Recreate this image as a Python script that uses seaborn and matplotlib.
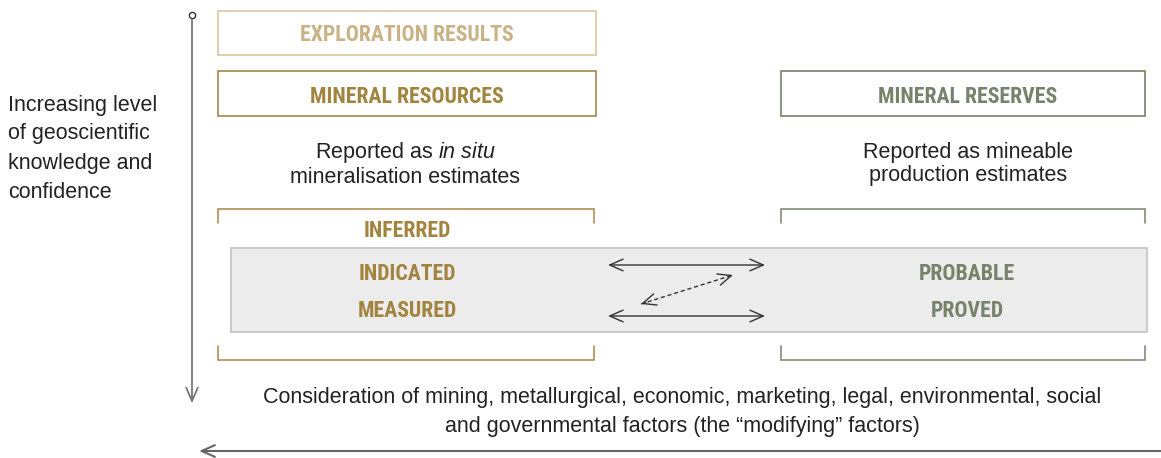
import matplotlib
matplotlib.use("Agg")
import matplotlib.pyplot as plt
import matplotlib.patches as mpatches
from matplotlib import font_manager
import seaborn as sns

# text content of the diagram
side_label = "Increasing level\nof geoscientific\nknowledge and\nconfidence"
top_box = "EXPLORATION RESULTS"
header_boxes = ["MINERAL RESOURCES", "MINERAL RESERVES"]
resource_categories = ["INFERRED", "INDICATED", "MEASURED"]
reserve_categories = ["PROBABLE", "PROVED"]
footnote = ("Consideration of mining, metallurgical, economic, marketing, legal, environmental, social\n"
            "and governmental factors (the \u201cmodifying\u201d factors)")

GOLD = "#a2843f"
GOLD_EDGE = "#ad9058"
LIGHT_GOLD = "#c9b386"
LIGHT_EDGE = "#dccaa6"
GREEN = "#76836a"
GREEN_EDGE = "#808c74"
TEXT = "#222222"


def pick_font(candidates):
    names = {f.name for f in font_manager.fontManager.ttflist}
    for c in candidates:
        if c in names:
            return c
    return "DejaVu Sans"


sns.set_theme(style="white")
body_font = pick_font(["Liberation Sans", "Arial", "DejaVu Sans"])
head_font = pick_font(["Roboto Condensed", "Liberation Sans Narrow", "Roboto", "Liberation Sans"])
plt.rcParams["font.family"] = [body_font, "DejaVu Sans"]
plt.rcParams["mathtext.fontset"] = "custom"
plt.rcParams["mathtext.rm"] = body_font
plt.rcParams["mathtext.it"] = body_font + ":italic"

fig = plt.figure(figsize=(11.61, 4.58), dpi=100)
ax = fig.add_axes([0, 0, 1, 1])
ax.set_xlim(0, 1161)
ax.set_ylim(458, 0)
ax.axis("off")


def box(x0, y0, x1, y1, edge, face="none", lw=1.3):
    ax.add_patch(mpatches.Rectangle((x0, y0), x1 - x0, y1 - y0, facecolor=face,
                                    edgecolor=edge, linewidth=lw))


def head(x, y, s, color):
    ax.text(x, y + 2, s, ha="center", va="center", fontsize=15.7, fontweight="bold",
            family=head_font, color=color)


def bracket(x0, x1, y_line, y_end, color):
    ax.plot([x0, x0, x1, x1], [y_end, y_line, y_line, y_end], color=color, lw=1.2,
            solid_joinstyle="miter")


head_style = "->,head_length=0.8,head_width=0.35"

# vertical confidence arrow
ax.annotate("", xy=(192, 406), xytext=(192, 17),
            arrowprops=dict(arrowstyle=head_style, color="#777777", lw=1.3))
ax.plot([192], [15], marker="o", ms=4.5, mfc="white", mec="#333333", mew=1)
ax.text(8, 148.5, side_label, ha="left", va="center", fontsize=15.5, color=TEXT, linespacing=1.5)

# header boxes
box(218, 11, 596, 55, LIGHT_EDGE)
head(407, 33, top_box, LIGHT_GOLD)
box(218, 71, 596, 116, GOLD_EDGE)
head(407, 95, header_boxes[0], GOLD)
box(781, 71, 1145, 116, GREEN_EDGE)
head(968, 95, header_boxes[1], GREEN)

ax.text(405, 164, "Reported as $\\it{in\\ situ}$\nmineralisation estimates", ha="center", va="center",
        fontsize=15.5, color=TEXT, linespacing=1.12)
ax.text(968, 164, "Reported as mineable\nproduction estimates", ha="center", va="center",
        fontsize=15.5, color=TEXT, linespacing=1.12)

# brackets
bracket(218, 594, 209, 223, GOLD_EDGE)
bracket(781, 1145, 209, 223, GREEN_EDGE)
bracket(218, 594, 360, 346, GOLD_EDGE)
bracket(781, 1145, 360, 346, GREEN_EDGE)

# grey band
box(231, 248, 1147, 332, "#c6c7c6", face="#ebeceb", lw=1.3)

res_y = [229, 272, 309]
for s, y in zip(resource_categories, res_y):
    head(407, y, s, GOLD)
for s, y in zip(reserve_categories, res_y[1:]):
    head(967, y, s, GREEN)

# conversion arrows
for y in (265, 316):
    ax.annotate("", xy=(765, y), xytext=(608, y),
                arrowprops=dict(arrowstyle="<" + head_style, color="#333333", lw=1.0,
                                shrinkA=0, shrinkB=0))
p0, p1 = (641, 304), (733, 275)
ax.plot([p0[0], p1[0]], [p0[1], p1[1]], color="#333333", lw=1.0, ls=(0, (3, 2)))
for a, b in ((p0, p1), (p1, p0)):
    near = (b[0] + (a[0] - b[0]) * 0.05, b[1] + (a[1] - b[1]) * 0.05)
    ax.annotate("", xy=b, xytext=near,
                arrowprops=dict(arrowstyle=head_style, color="#333333", lw=1.0,
                                shrinkA=0, shrinkB=0))

# modifying factors
ax.text(682, 412, footnote, ha="center", va="center", fontsize=15.5, color=TEXT, linespacing=1.48)
ax.annotate("", xy=(199, 451), xytext=(1161, 451),
            arrowprops=dict(arrowstyle=head_style, color="#666666", lw=1.5,
                            shrinkA=0, shrinkB=0))

fig.savefig("out.png", dpi=100)
